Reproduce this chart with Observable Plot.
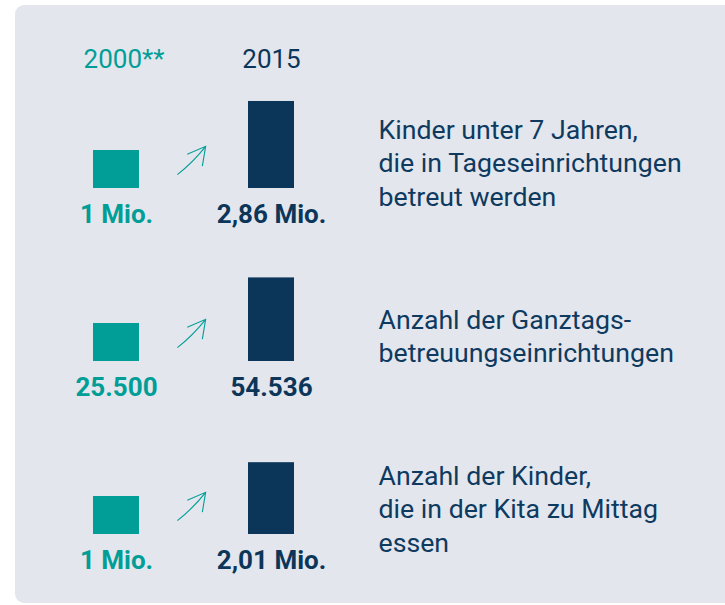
<!DOCTYPE html>
<html>
<head>
<meta charset="utf-8">
<script src="https://cdn.jsdelivr.net/npm/d3@7"></script>
<script src="https://cdn.jsdelivr.net/npm/@observablehq/plot@0.6"></script>
<style>
  html, body { margin: 0; padding: 0; background: #ffffff; }
  #wrap { position: relative; width: 725px; height: 605px; overflow: hidden; }
  #panel { position: absolute; left: 15px; top: 5px; width: 730px; height: 598px; background: #e3e6ed; border-radius: 9px; }
  #chart { position: absolute; left: 0; top: 0; }
</style>
</head>
<body>
<div id="wrap"><div id="panel"></div><div id="chart"></div></div>
<script>
// ---- data ----
const years = ["2000**", "2015"];
const rowLabels = [
  "Kinder unter 7 Jahren,\ndie in Tageseinrichtungen\nbetreut werden",
  "Anzahl der Ganztags-\nbetreuungseinrichtungen",
  "Anzahl der Kinder,\ndie in der Kita zu Mittag\nessen"
];
const label2000 = ["1 Mio.", "25.500", "1 Mio."];
const label2015 = ["2,86 Mio.", "54.536", "2,01 Mio."];
// illustrative bar sizes as drawn (2000 bar = 1)
const size2000 = [1, 1, 1];
const size2015 = [2.29, 2.2, 1.89];

// ---- styling ----
const teal = "#009e97";
const navy = "#0c3659";
const textNavy = "#0e3a5f";

const rows = rowLabels.map((_, i) => i);
const bars = rows.flatMap(i => [
  {row: i, year: years[0], size: size2000[i], label: label2000[i]},
  {row: i, year: years[1], size: size2015[i], label: label2015[i]}
]);

// thin, slightly curved arrow with a long open head, centred on the dot position
const arrowSymbol = {
  draw(context, size) {
    const l = 2 * Math.sqrt(size / Math.PI);
    const th = 45 * Math.PI / 180;
    const R = (x, y) => [x * Math.cos(th) - y * Math.sin(th), x * Math.sin(th) + y * Math.cos(th)];
    const k = l * 0.06;
    const tail = R(0, l / 2), ctrl = R(k, 0), tip = R(0, -l / 2);
    context.moveTo(tail[0], tail[1]);
    context.quadraticCurveTo(ctrl[0], ctrl[1], tip[0], tip[1]);
    const back = Math.atan2(l / 2, k);
    const h = l * 0.5, a = 0.5;
    const b1 = R(h * Math.cos(back - a), -l / 2 + h * Math.sin(back - a));
    const b2 = R(h * Math.cos(back + a), -l / 2 + h * Math.sin(back + a));
    context.moveTo(b1[0], b1[1]);
    context.lineTo(tip[0], tip[1]);
    context.lineTo(b2[0], b2[1]);
  }
};

const chart = Plot.plot({
  width: 725,
  height: 605,
  marginTop: 15,
  marginBottom: 71,
  marginLeft: 93,
  marginRight: 431,
  facet: {marginTop: 0, marginRight: 0, marginBottom: 0, marginLeft: 0},
  x: {type: "band", domain: years, paddingInner: 1 - 46 / 155, paddingOuter: 0, round: false, axis: null},
  y: {domain: [0, 173 / 38], axis: null},
  fy: {domain: rows, padding: 0, round: false, axis: null},
  color: {domain: years, range: [teal, navy]},
  style: {fontFamily: "Roboto", background: "transparent", overflow: "visible"},
  marks: [
    Plot.barY(bars, {x: "year", y: "size", fy: "row", fill: "year"}),
    Plot.text(bars, {
      x: "year", fy: "row", text: "label", fill: "year",
      frameAnchor: "bottom", lineAnchor: "bottom", dy: 34.5,
      fontSize: 26, fontWeight: "bold"
    }),
    Plot.text([years[0]], {
      x: d => d, fy: () => rows[0], text: d => d, fill: d => d,
      frameAnchor: "top", lineAnchor: "bottom", dy: 52, dx: 7.5, fontSize: 26
    }),
    Plot.text([years[1]], {
      x: d => d, fy: () => rows[0], text: d => d, fill: d => d,
      frameAnchor: "top", lineAnchor: "bottom", dy: 52, fontSize: 26
    }),
    Plot.dot(rows, {
      x: () => years[0], y: i => size2000[i], fy: i => i,
      dx: 75, dy: 10, r: 20, symbol: arrowSymbol,
      fill: "none", stroke: teal, strokeWidth: 1.1
    }),
    Plot.text(rows, {
      fy: i => i, y: i => size2000[i], text: i => rowLabels[i],
      frameAnchor: "right", textAnchor: "start", lineAnchor: "middle",
      dx: 84, dy: 11, lineHeight: 1.25, fontSize: 26.7, fill: textNavy
    })
  ]
});
document.getElementById("chart").appendChild(chart);
</script>
</body>
</html>
